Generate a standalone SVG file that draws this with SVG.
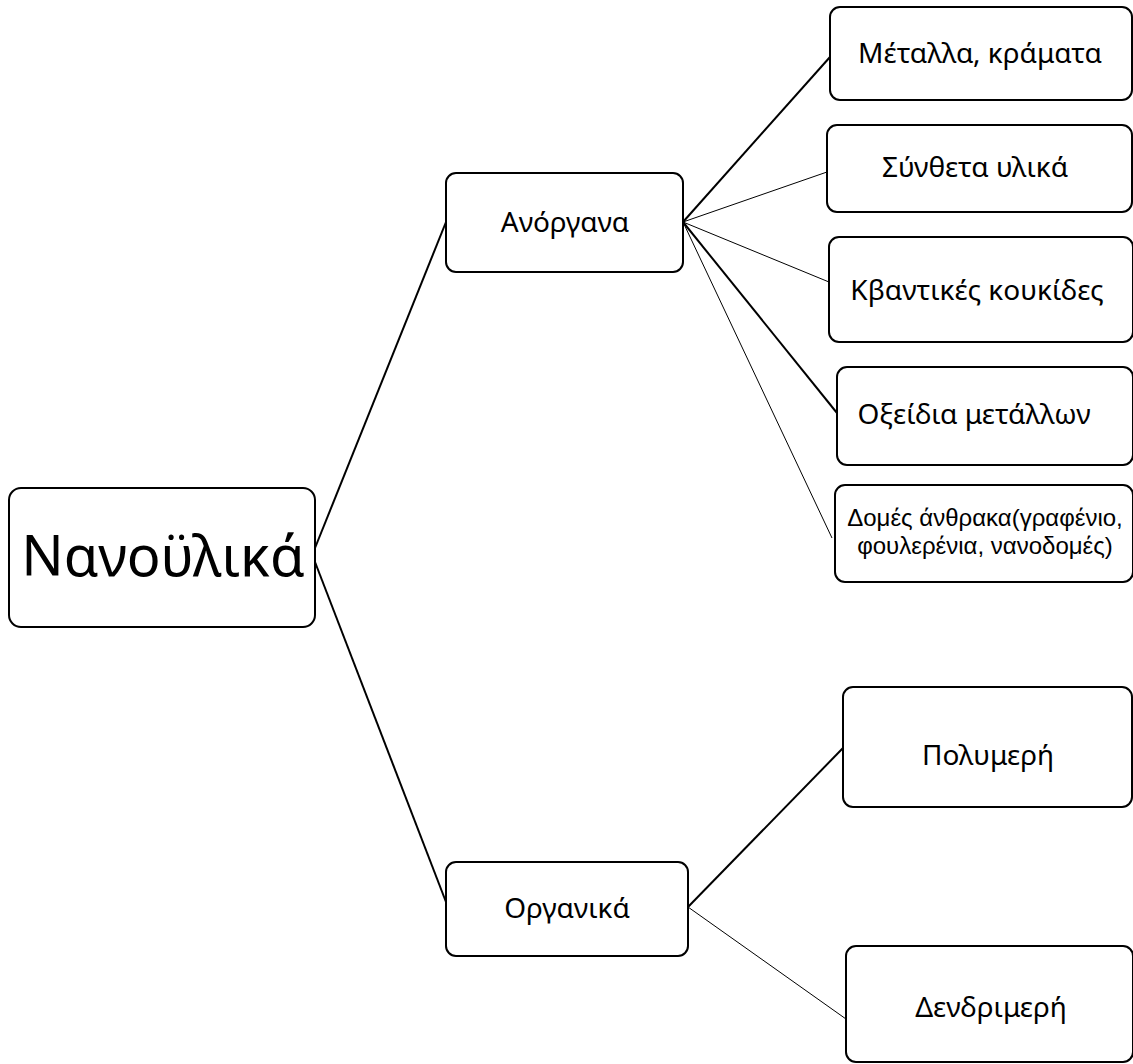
<svg xmlns="http://www.w3.org/2000/svg" width="1133" height="1064" viewBox="0 0 1133 1064">
<style>
.box{fill:#fff;stroke:#000;stroke-width:2}
.t{font-family:"Noto Sans","Open Sans","Liberation Sans",sans-serif;font-size:28px;fill:#000;text-anchor:middle}
.big{font-size:56px}
.sm{font-family:"Liberation Sans","Noto Sans",sans-serif;font-size:24px}
.thick{stroke:#000;stroke-width:2;fill:none}
.thin{stroke:#000;stroke-width:1;fill:none}
</style>
<rect width="1133" height="1064" fill="#fff"/>
<g id="connectors">
<line class="thick" x1="315" y1="548" x2="446" y2="222"/>
<line class="thick" x1="315" y1="562" x2="446" y2="902"/>
<line class="thick" x1="683" y1="222" x2="830" y2="57"/>
<line class="thin" x1="683" y1="222" x2="827" y2="172"/>
<line class="thin" x1="683" y1="222" x2="829" y2="282"/>
<line class="thick" x1="683" y1="222" x2="837" y2="413"/>
<line class="thin" x1="683" y1="222" x2="832" y2="538"/>
<line class="thick" x1="688" y1="907" x2="843" y2="748"/>
<line class="thin" x1="688" y1="907" x2="846" y2="1019"/>
</g>
<g id="n-root">
<rect class="box" x="9" y="488" width="306" height="139" rx="12"/>
<text class="t big" x="163" y="576">Νανοϋλικά</text>
</g>
<g id="n-anorgana">
<rect class="box" x="446" y="173" width="237" height="99" rx="10"/>
<text class="t" x="565" y="232">Ανόργανα</text>
</g>
<g id="n-organika">
<rect class="box" x="446" y="862" width="242" height="94" rx="10"/>
<text class="t" x="567" y="918">Οργανικά</text>
</g>
<g id="n-metalla">
<rect class="box" x="830" y="7" width="302" height="93" rx="10"/>
<text class="t" x="980" y="63">Μέταλλα, κράματα</text>
</g>
<g id="n-syntheta">
<rect class="box" x="827" y="125" width="305" height="87" rx="10"/>
<text class="t" x="975" y="177">Σύνθετα υλικά</text>
</g>
<g id="n-kvantikes">
<rect class="box" x="829" y="237" width="304" height="105" rx="10"/>
<text class="t" x="977" y="300">Κβαντικές κουκίδες</text>
</g>
<g id="n-oxeidia">
<rect class="box" x="837" y="367" width="296" height="98" rx="10"/>
<text class="t" x="974" y="424">Οξείδια μετάλλων</text>
</g>
<g id="n-domes">
<rect class="box" x="835" y="485" width="298" height="97" rx="10"/>
<text class="t sm" x="985" y="526"><tspan x="985" y="526">Δομές άνθρακα(γραφένιο,</tspan><tspan x="985" y="554">φουλερένια, νανοδομές)</tspan></text>
</g>
<g id="n-polymeri">
<rect class="box" x="843" y="687" width="289" height="120" rx="10"/>
<text class="t" x="988" y="765">Πολυμερή</text>
</g>
<g id="n-dendrimeri">
<rect class="box" x="846" y="946" width="287" height="116" rx="10"/>
<text class="t" x="991" y="1017">Δενδριμερή</text>
</g>
</svg>
